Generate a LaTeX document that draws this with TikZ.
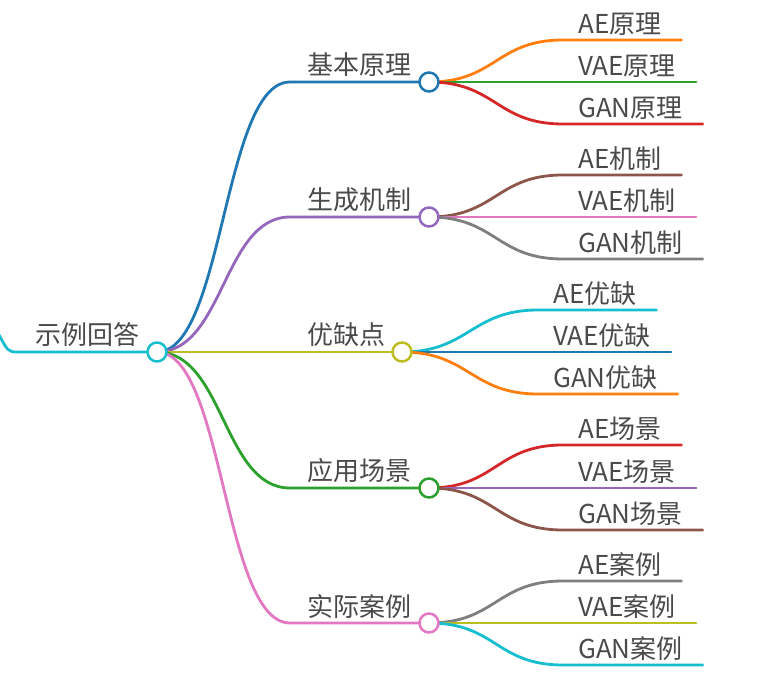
\documentclass[tikz,border=0pt]{standalone}
\usepackage{fontspec}
\setmainfont{Noto Sans CJK SC}
\usetikzlibrary{positioning, calc, backgrounds}
\definecolor{tblue}{HTML}{1F77B4}
\definecolor{torange}{HTML}{FF7F0E}
\definecolor{tgreen}{HTML}{2CA02C}
\definecolor{tred}{HTML}{D62728}
\definecolor{tpurple}{HTML}{9467BD}
\definecolor{tbrown}{HTML}{8C564B}
\definecolor{tpink}{HTML}{E377C2}
\definecolor{tgray}{HTML}{7F7F7F}
\definecolor{tolive}{HTML}{BCBD22}
\definecolor{tcyan}{HTML}{17BECF}
\definecolor{labelgray}{HTML}{4A4A4A}
\tikzset{
  dot/.style={circle, draw=#1, line width=2.5pt, fill=white, minimum size=19pt, inner sep=0pt},
  topic/.style={anchor=base west, inner sep=0pt, text=labelgray, font=\fontsize{26}{26}\selectfont},
  branch/.style={line width=2.8pt, line cap=round},
  link/.style={to path={.. controls +(67,0) and +(-67,0) .. (\tikztotarget)}},
}

\begin{document}
\begin{tikzpicture}[x=1pt, y=-1pt]
  \useasboundingbox (0,0) rectangle (772,684);
  % root and first level
  \node[dot=tcyan] (root) at (157,352) {};
  \node[topic] (rt) at (35,345) {示例回答};
  \node[dot=tblue] (d1) at (429,82) {};
  \node[topic] (t1) at (307,75) {基本原理};
  \node[dot=tpurple] (d2) at (429,217) {};
  \node[topic] (t2) at (307,210) {生成机制};
  \node[dot=tolive] (d3) at (402,352) {};
  \node[topic] (t3) at (307,345) {优缺点};
  \node[dot=tgreen] (d4) at (429,488) {};
  \node[topic] (t4) at (307,481) {应用场景};
  \node[dot=tpink] (d5) at (429,623) {};
  \node[topic] (t5) at (307,616) {实际案例};
  % leaves
  \node[topic] (l11) at (578,34) {AE原理};
  \node[topic] (l12) at (578,76) {VAE原理};
  \node[topic] (l13) at (578,118) {GAN原理};
  \node[topic] (l21) at (578,169) {AE机制};
  \node[topic] (l22) at (578,211) {VAE机制};
  \node[topic] (l23) at (578,253) {GAN机制};
  \node[topic] (l31) at (553,304) {AE优缺};
  \node[topic] (l32) at (553,346) {VAE优缺};
  \node[topic] (l33) at (553,388) {GAN优缺};
  \node[topic] (l41) at (578,439) {AE场景};
  \node[topic] (l42) at (578,482) {VAE场景};
  \node[topic] (l43) at (578,524) {GAN场景};
  \node[topic] (l51) at (578,575) {AE案例};
  \node[topic] (l52) at (578,617) {VAE案例};
  \node[topic] (l53) at (578,659) {GAN案例};
  \coordinate (entry) at (-3,331);

  \begin{scope}[on background layer]
    \draw[branch, tcyan] (entry) .. controls (8,352) .. ($(rt.base west)+(-17,7)$) -- (root.center);
    \draw[branch, tblue] (root.center) to[link] ($(t1.base west)+(-17,7)$) -- (d1.center);
    \draw[branch, tpurple] (root.center) to[link] ($(t2.base west)+(-17,7)$) -- (d2.center);
    \draw[branch, tolive] (root.center) -- (d3.center);
    \draw[branch, tgreen] (root.center) to[link] ($(t4.base west)+(-17,7)$) -- (d4.center);
    \draw[branch, tpink] (root.center) to[link] ($(t5.base west)+(-17,7)$) -- (d5.center);
    % second level
    \draw[branch, torange] (d1.center) to[link] ($(l11.base west)+(-15,6)$) -- ($(l11.base east)+(20,6)$);
    \draw[branch, tgreen] (d1.center) -- ($(l12.base east)+(20,6)$);
    \draw[branch, tred] (d1.center) to[link] ($(l13.base west)+(-15,6)$) -- ($(l13.base east)+(20,6)$);
    \draw[branch, tbrown] (d2.center) to[link] ($(l21.base west)+(-15,6)$) -- ($(l21.base east)+(20,6)$);
    \draw[branch, tpink] (d2.center) -- ($(l22.base east)+(20,6)$);
    \draw[branch, tgray] (d2.center) to[link] ($(l23.base west)+(-15,6)$) -- ($(l23.base east)+(20,6)$);
    \draw[branch, tcyan] (d3.center) to[link] ($(l31.base west)+(-15,6)$) -- ($(l31.base east)+(20,6)$);
    \draw[branch, tblue] (d3.center) -- ($(l32.base east)+(20,6)$);
    \draw[branch, torange] (d3.center) to[link] ($(l33.base west)+(-15,6)$) -- ($(l33.base east)+(20,6)$);
    \draw[branch, tred] (d4.center) to[link] ($(l41.base west)+(-15,6)$) -- ($(l41.base east)+(20,6)$);
    \draw[branch, tpurple] (d4.center) -- ($(l42.base east)+(20,6)$);
    \draw[branch, tbrown] (d4.center) to[link] ($(l43.base west)+(-15,6)$) -- ($(l43.base east)+(20,6)$);
    \draw[branch, tgray] (d5.center) to[link] ($(l51.base west)+(-15,6)$) -- ($(l51.base east)+(20,6)$);
    \draw[branch, tolive] (d5.center) -- ($(l52.base east)+(20,6)$);
    \draw[branch, tcyan] (d5.center) to[link] ($(l53.base west)+(-15,6)$) -- ($(l53.base east)+(20,6)$);
  \end{scope}
\end{tikzpicture}
\end{document}
